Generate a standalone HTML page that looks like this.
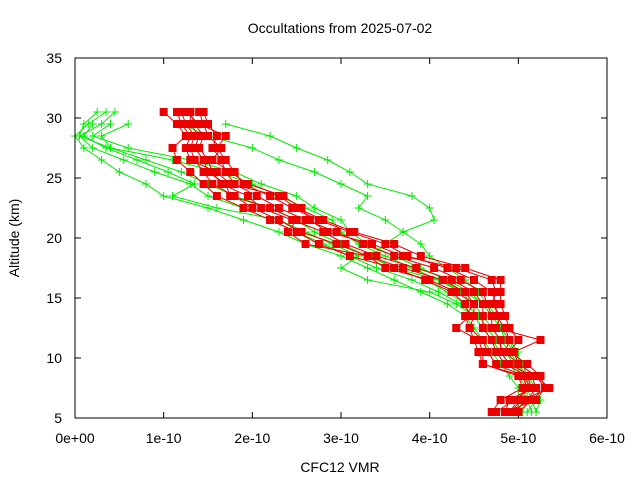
<!DOCTYPE html>
<html><head><meta charset="utf-8"><style>
body{margin:0;background:#fff}
svg text{font-family:"Liberation Sans",sans-serif;font-size:14px;fill:#000}
</style></head><body>
<svg id="chart" width="640" height="480" viewBox="0 0 640 480" xmlns="http://www.w3.org/2000/svg">
<rect width="640" height="480" fill="#fff"/>
<text x="340" y="33" text-anchor="middle">Occultations from 2025-07-02</text>
<text x="340" y="472" text-anchor="middle">CFC12 VMR</text>
<text x="0" y="0" text-anchor="middle" transform="translate(19,238) rotate(-90)">Altitude (km)</text>
<g id="axes"></g>
<g id="green"></g>
<g id="red"></g>
<rect x="75" y="58" width="532" height="360" fill="none" stroke="#000" stroke-width="1"/>
</svg>
<script>
const xTicks = [0,1,2,3,4,5,6];
const xTickLabels = ["0e+00","1e-10","2e-10","3e-10","4e-10","5e-10","6e-10"];
const yTicks = [5,10,15,20,25,30,35];
const alts = [30.5,29.5,28.5,27.5,26.5,25.5,24.5,23.5,22.5,21.5,20.5,19.5,18.5,17.5,16.5,15.5,14.5,13.5,12.5,11.5,10.5,9.5,8.5,7.5,6.5,5.5];
// red profiles (units 1e-10)
const red1 = [1.0,1.15,1.25,1.1,1.15,1.3,1.45,1.6,1.9,2.2,2.5,2.75,3.1,3.6,3.95,4.25,4.4,4.45,4.3,4.55,4.6,4.6,5.0,5.05,4.8,4.7];
const red2 = [1.2,1.25,1.35,1.3,1.35,1.45,1.55,1.8,2.0,2.3,2.55,2.95,3.3,3.7,4.15,4.4,4.5,4.5,4.45,4.6,4.65,4.75,5.05,5.1,5.0,4.9];
const red3 = [1.3,1.35,1.45,1.4,1.5,1.55,1.65,1.95,2.1,2.45,2.8,3.05,3.4,3.85,4.25,4.5,4.6,4.6,4.6,4.7,4.75,4.85,5.1,5.15,4.9,4.85];
const red4 = [1.45,1.5,1.6,1.55,1.65,1.7,1.8,2.05,2.3,2.6,2.95,3.25,3.6,4.05,4.35,4.6,4.65,4.7,4.7,4.8,4.8,4.9,5.15,5.2,5.1,4.95];
const red5 = [1.25,1.4,1.7,1.6,1.7,1.8,1.9,2.2,2.45,2.75,3.1,3.5,3.75,4.2,4.5,4.7,4.75,4.75,4.85,4.9,4.85,5.0,5.2,5.3,5.15,5.0];
const red6 = [1.15,1.2,1.3,1.25,1.3,1.6,1.75,2.3,2.5,2.8,3.15,3.6,3.9,4.4,4.8,4.8,4.8,4.85,4.9,5.0,4.9,5.1,5.25,5.3,5.2,4.85];
const red7 = [1.3,1.3,1.4,1.35,1.45,1.5,1.7,1.75,2.2,2.5,2.4,2.6,3.3,3.5,4.0,4.3,4.5,4.4,4.45,4.5,4.55,4.6,5.05,5.15,4.95,4.75];
const red8 = [1.4,1.45,1.5,1.65,1.55,1.75,1.95,2.35,2.55,2.65,2.85,3.35,3.7,4.3,4.7,4.75,4.7,4.8,4.75,5.25,4.95,5.0,5.2,5.35,5.05,4.9];
// green profiles (units 1e-10), null = no data
const green1 = [0.35,0.15,0.0,0.1,0.3,0.5,0.8,1.0,1.5,1.9,2.3,2.6,3.0,3.3,3.6,3.9,4.2,4.4,4.5,4.6,4.7,4.8,4.9,5.0,5.0,5.0];
const green2 = [0.45,0.3,0.05,0.2,0.55,0.9,1.3,1.5,1.9,2.2,2.5,2.8,3.1,3.4,3.8,4.1,4.35,4.5,4.6,4.7,4.8,4.9,5.0,5.05,5.1,5.05];
const green3 = [null,0.6,0.3,0.4,0.8,1.2,1.5,1.8,2.2,2.5,2.7,3.0,3.3,3.6,3.95,4.2,4.4,4.55,4.65,4.75,4.85,4.95,5.05,5.1,5.15,5.2];
const green4 = [null,0.2,0.1,0.35,0.7,1.05,1.35,1.1,1.6,2.3,2.6,2.9,3.2,3.0,3.3,4.0,4.3,4.5,4.6,4.7,4.8,4.9,5.0,5.1,5.1,5.15];
const green5 = [null,1.7,2.2,2.5,2.85,3.1,3.3,3.8,4.0,4.05,3.7,3.5,3.35,3.6,4.1,4.4,4.6,4.7,4.8,4.9,4.95,5.0,5.1,5.15,5.2,5.1];
const green6 = [0.25,0.1,0.05,0.4,1.1,1.6,2.0,2.3,2.6,2.9,3.0,3.2,3.5,3.8,4.1,4.35,4.5,4.6,4.7,4.8,4.9,5.0,5.05,5.1,5.05,5.0];
const green7 = [null,1.2,1.5,2.0,2.3,2.7,3.0,3.3,3.2,3.5,3.7,3.9,4.0,4.2,4.4,4.55,4.65,4.75,4.8,4.9,5.0,5.0,5.1,5.2,5.25,5.2];
const green8 = [null,0.4,0.2,0.6,1.3,1.8,2.1,2.5,2.7,3.0,3.1,3.3,3.6,3.9,4.2,4.45,4.6,4.7,4.8,4.85,4.95,5.05,5.1,5.1,5.0,5.0];
const redSeries = [red1,red2,red3,red4,red5,red6,red7,red8];
const greenSeries = [green1,green2,green3,green4,green5,green6,green7,green8];

const NS = "http://www.w3.org/2000/svg";
const X0=75, X1=607, Y0=418, Y1=58;
function xs(v){ return X0 + (v-0)/(6-0)*(X1-X0); }
function ys(a){ return Y0 - (a-5)/(35-5)*(Y0-Y1); }

const axes = document.getElementById('axes');
xTicks.forEach((t,i)=>{
  const l = document.createElementNS(NS,'path');
  l.setAttribute('d',`M${xs(t)},${Y0}v-6M${xs(t)},${Y1}v6`);
  l.setAttribute('stroke','#000');
  
  
  axes.appendChild(l);
  const tx = document.createElementNS(NS,'text');
  tx.setAttribute('x',xs(t)); tx.setAttribute('y',443); tx.setAttribute('text-anchor','middle');
  tx.textContent = xTickLabels[i];
  
  
  axes.appendChild(tx);
});
yTicks.forEach(t=>{
  const l = document.createElementNS(NS,'path');
  l.setAttribute('d',`M${X0},${ys(t)}h6M${X1},${ys(t)}h-6`);
  l.setAttribute('stroke','#000');
  
  
  axes.appendChild(l);
  const tx = document.createElementNS(NS,'text');
  tx.setAttribute('x',62); tx.setAttribute('y',ys(t)+5); tx.setAttribute('text-anchor','end');
  tx.textContent = String(t);
  
  
  axes.appendChild(tx);
});

function drawSeries(group, series, color, marker, name){
  series.forEach(vals=>{
    const pts=[];
    vals.forEach((v,i)=>{ if(v!==null) pts.push([xs(v),ys(alts[i])]); });
    const pl = document.createElementNS(NS,'polyline');
    pl.setAttribute('points',pts.map(p=>p.join(',')).join(' '));
    pl.setAttribute('fill','none'); pl.setAttribute('stroke',color); pl.setAttribute('stroke-width','1');
    
    
    group.appendChild(pl);
    pts.forEach(p=>{
      let m;
      if(marker==='square'){
        m=document.createElementNS(NS,'rect');
        m.setAttribute('x',p[0]-4); m.setAttribute('y',p[1]-4);
        m.setAttribute('width',8); m.setAttribute('height',8); m.setAttribute('fill',color);
      } else {
        m=document.createElementNS(NS,'path');
        m.setAttribute('d',`M${p[0]-4},${p[1]}h8M${p[0]},${p[1]-4}v8`);
        m.setAttribute('stroke',color);
      }
      
      
      group.appendChild(m);
    });
  });
}
drawSeries(document.getElementById('green'), greenSeries, '#00ee00', 'plus', 'green-profile');
drawSeries(document.getElementById('red'), redSeries, '#ee0000', 'square', 'red-profile');
</script>
</body></html>
